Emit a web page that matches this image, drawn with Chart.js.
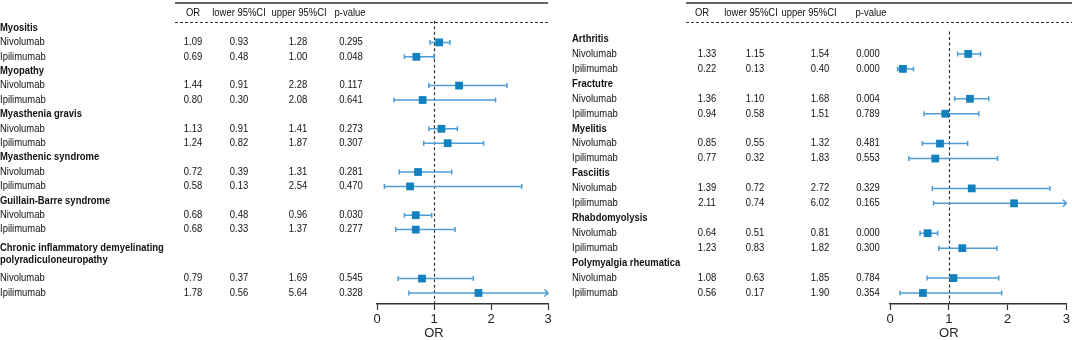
<!DOCTYPE html>
<html>
<head>
<meta charset="utf-8">
<script src="https://cdn.jsdelivr.net/npm/chart.js@4.4.0/dist/chart.umd.min.js"></script>
<style>
  html, body { margin: 0; padding: 0; background: #fff; }
  #wrap { position: relative; width: 1072px; height: 340px; overflow: hidden; }
  #leftChart { position: absolute; left: 0; top: 0; }
  #rightChart { position: absolute; left: 555px; top: 0; }
</style>
</head>
<body>
<div id="wrap">
  <canvas id="leftChart" width="555" height="340"></canvas>
  <canvas id="rightChart" width="517" height="340"></canvas>
</div>
<script>
// ---- data ----
const drugs = ['Nivolumab', 'Ipilimumab'];
const headerLabels = ['OR', 'lower 95%CI', 'upper 95%CI', 'p-value'];
const xTicks = [0, 1, 2, 3];
const xTitle = 'OR';

const leftGroups = ['Myositis', 'Myopathy', 'Myasthenia gravis', 'Myasthenic syndrome',
  'Guillain-Barre syndrome', 'Chronic inflammatory demyelinating\npolyradiculoneuropathy'];
const leftOR    = [1.09, 0.69, 1.44, 0.80, 1.13, 1.24, 0.72, 0.58, 0.68, 0.68, 0.79, 1.78];
const leftLower = [0.93, 0.48, 0.91, 0.30, 0.91, 0.82, 0.39, 0.13, 0.48, 0.33, 0.37, 0.56];
const leftUpper = [1.28, 1.00, 2.28, 2.08, 1.41, 1.87, 1.31, 2.54, 0.96, 1.37, 1.69, 5.64];
const leftP     = ['0.295', '0.048', '0.117', '0.641', '0.273', '0.307', '0.281', '0.470', '0.030', '0.277', '0.545', '0.328'];

const rightGroups = ['Arthritis', 'Fractutre', 'Myelitis', 'Fasciitis', 'Rhabdomyolysis', 'Polymyalgia rheumatica'];
const rightOR    = [1.33, 0.22, 1.36, 0.94, 0.85, 0.77, 1.39, 2.11, 0.64, 1.23, 1.08, 0.56];
const rightLower = [1.15, 0.13, 1.10, 0.58, 0.55, 0.32, 0.72, 0.74, 0.51, 0.83, 0.63, 0.17];
const rightUpper = [1.54, 0.40, 1.68, 1.51, 1.32, 1.83, 2.72, 6.02, 0.81, 1.82, 1.85, 1.90];
const rightP     = ['0.000', '0.000', '0.004', '0.789', '0.481', '0.553', '0.329', '0.165', '0.000', '0.300', '0.784', '0.354'];

const FONT = '"Liberation Sans", Arial, Helvetica, sans-serif';
const BOX_COLOR = '#1380c0';
const CI_COLOR = '#4d9dd6';
const XMAX = 3;

// rows: group headers (can wrap to 2 lines) followed by one row per drug
function buildRows(groups) {
  const rows = [];
  let cursor = 0;
  groups.forEach((g, gi) => {
    const lines = g.split('\n');
    const extra = (lines.length - 1) * 1.4;
    rows.push({ type: 'group', lines: lines, y: cursor + extra / 2 });
    cursor += 1 + extra;
    drugs.forEach((d, di) => {
      rows.push({ type: 'drug', text: d, y: cursor, i: gi * 2 + di });
      cursor += 1;
    });
  });
  return rows;
}

function squeezeText(ctx, text, x, y, align) {
  ctx.save();
  ctx.translate(x, y);
  ctx.scale(0.9, 1);
  ctx.textAlign = align;
  ctx.fillText(text, 0, 0);
  ctx.restore();
}

// draws the table, header rules, the reference line and the CI whiskers
const forestPlugin = {
  id: 'forest',
  beforeDatasetsDraw(chart) {
    const p = chart.options.plugins.forest;
    const ctx = chart.ctx;
    const xs = chart.scales.x, ys = chart.scales.y;
    const area = chart.chartArea;

    // dashed line at OR = 1
    ctx.save();
    ctx.strokeStyle = '#333';
    ctx.lineWidth = 1.2;
    ctx.setLineDash([3, 2.5]);
    ctx.beginPath();
    ctx.moveTo(Math.round(xs.getPixelForValue(1)) + 0.5, ys.getPixelForValue(-0.5));
    ctx.lineTo(Math.round(xs.getPixelForValue(1)) + 0.5, area.bottom);
    ctx.stroke();
    ctx.restore();

    // confidence intervals
    ctx.save();
    ctx.strokeStyle = CI_COLOR;
    ctx.lineWidth = 1.5;
    p.rows.filter(r => r.type === 'drug').forEach(r => {
      const y = ys.getPixelForValue(r.y);
      const lo = p.lower[r.i], hi = p.upper[r.i];
      const x0 = xs.getPixelForValue(Math.max(lo, 0));
      const x1 = xs.getPixelForValue(Math.min(hi, XMAX));
      ctx.beginPath();
      ctx.moveTo(x0, y); ctx.lineTo(x1, y);
      ctx.moveTo(x0, y - 2.5); ctx.lineTo(x0, y + 2.5);
      if (hi <= XMAX) {
        ctx.moveTo(x1, y - 2.5); ctx.lineTo(x1, y + 2.5);
      } else {
        ctx.moveTo(x1 - 3.5, y - 3.5); ctx.lineTo(x1, y); ctx.lineTo(x1 - 3.5, y + 3.5);
      }
      ctx.stroke();
    });
    ctx.restore();
  },
  afterDraw(chart) {
    const p = chart.options.plugins.forest;
    const ctx = chart.ctx;
    const xs = chart.scales.x, ys = chart.scales.y;
    ctx.save();
    ctx.fillStyle = '#111';
    ctx.textBaseline = 'middle';

    // axis title, centred under OR = 1 like the original
    ctx.font = '13px ' + FONT;
    ctx.fillStyle = '#222';
    ctx.textAlign = 'center';
    ctx.fillText(xTitle, xs.getPixelForValue(1), 333);
    ctx.fillStyle = '#111';

    // header
    ctx.font = '10.5px ' + FONT;
    headerLabels.forEach((h, k) => squeezeText(ctx, h, p.headX[k], 13, 'center'));
    ctx.strokeStyle = '#333';
    ctx.lineWidth = 1.5;
    ctx.beginPath();
    ctx.moveTo(p.ruleX[0], 3); ctx.lineTo(p.ruleX[1], 3);
    ctx.stroke();
    ctx.lineWidth = 1;
    ctx.setLineDash([3, 2]);
    ctx.beginPath();
    ctx.moveTo(p.ruleX[0], 22.5); ctx.lineTo(p.ruleX[1], 22.5);
    ctx.stroke();
    ctx.setLineDash([]);

    // rows
    p.rows.forEach(r => {
      const y = ys.getPixelForValue(r.y);
      if (r.type === 'group') {
        ctx.font = 'bold 10.5px ' + FONT;
        r.lines.forEach((ln, k) => {
          squeezeText(ctx, ln, p.labelX, y + (k - (r.lines.length - 1) / 2) * 12, 'left');
        });
      } else {
        ctx.font = '10.5px ' + FONT;
        squeezeText(ctx, r.text, p.labelX, y, 'left');
        const vals = [p.or[r.i].toFixed(2), p.lower[r.i].toFixed(2), p.upper[r.i].toFixed(2), p.pval[r.i]];
        vals.forEach((v, k) => squeezeText(ctx, v, p.colX[k], y, 'center'));
      }
    });
    ctx.restore();
  }
};

function makeForest(canvasId, groups, or, lower, upper, pval, layout) {
  const rows = buildRows(groups);
  const points = rows.filter(r => r.type === 'drug').map(r => ({ x: or[r.i], y: r.y }));
  const yMin = -layout.firstRow / layout.step;
  const yMax = yMin + 304 / layout.step;

  return new Chart(document.getElementById(canvasId).getContext('2d'), {
    type: 'scatter',
    data: {
      datasets: [{
        data: points,
        pointStyle: 'rect',
        pointRadius: 5.5,
        backgroundColor: BOX_COLOR,
        borderColor: BOX_COLOR,
        borderWidth: 0,
        clip: false
      }]
    },
    options: {
      responsive: false,
      animation: false,
      events: [],
      layout: { autoPadding: false, padding: { left: layout.plotLeft, right: layout.plotRight, top: 0, bottom: 0 } },
      plugins: {
        legend: { display: false },
        tooltip: { enabled: false },
        forest: {
          rows: rows, or: or, lower: lower, upper: upper, pval: pval,
          labelX: layout.labelX, colX: layout.colX, headX: layout.headX, ruleX: layout.ruleX
        }
      },
      scales: {
        x: {
          type: 'linear',
          min: xTicks[0],
          max: xTicks[xTicks.length - 1],
          afterBuildTicks: s => { s.ticks = xTicks.map(v => ({ value: v })); },
          ticks: { color: '#222', font: { size: 13, family: FONT }, padding: 2 },
          grid: { drawOnChartArea: false, drawTicks: true, tickLength: 6, color: '#333', tickWidth: 1.2 },
          border: { display: true, color: '#333', width: 1.4 },
          title: { display: false },
          afterFit: s => { s.height = 36; }
        },
        y: { type: 'linear', display: false, reverse: true, min: yMin, max: yMax }
      }
    },
    plugins: [forestPlugin]
  });
}

document.addEventListener('DOMContentLoaded', function () {
  makeForest('leftChart', leftGroups, leftOR, leftLower, leftUpper, leftP, {
    firstRow: 28, step: 14.4, plotLeft: 377, plotRight: 7,
    labelX: 0, colX: [193, 239, 298, 351], headX: [193, 239, 299, 350], ruleX: [175, 548]
  });
  makeForest('rightChart', rightGroups, rightOR, rightLower, rightUpper, rightP, {
    firstRow: 39, step: 14.94, plotLeft: 335, plotRight: 5,
    labelX: 17, colX: [152, 200, 265, 313], headX: [147, 196, 254, 316], ruleX: [131, 517]
  });
});
</script>
</body>
</html>
